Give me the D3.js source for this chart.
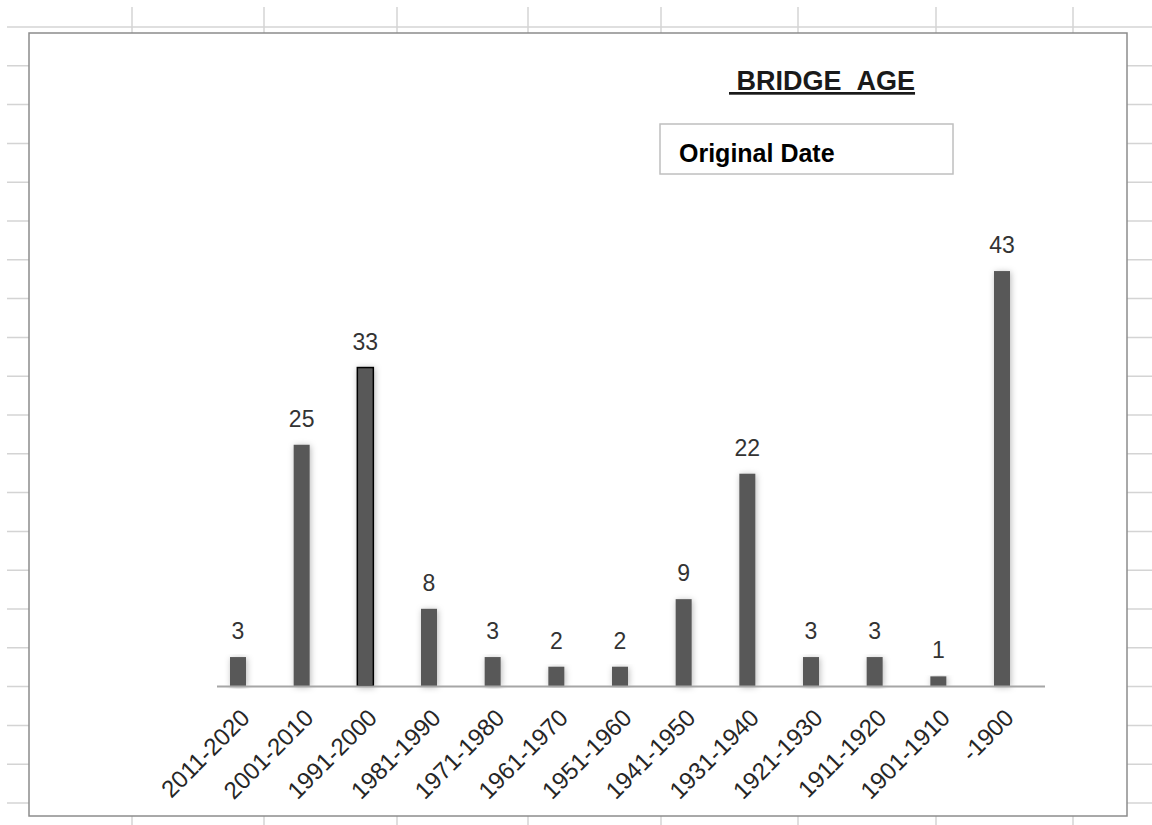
<!DOCTYPE html>
<html>
<head>
<meta charset="utf-8">
<script src="https://cdn.jsdelivr.net/npm/d3@7"></script>
<style>
  body { margin: 0; background: #fff; }
  svg { display: block; }
</style>
</head>
<body>
<svg width="1152" height="825"></svg>
<script>
var categories = ["2011-2020", "2001-2010", "1991-2000", "1981-1990", "1971-1980", "1961-1970",
                  "1951-1960", "1941-1950", "1931-1940", "1921-1930", "1911-1920", "1901-1910", "-1900"];
var counts = [3, 25, 33, 8, 3, 2, 2, 9, 22, 3, 3, 1, 43];
var selected = "1991-2000";

var titleText = "\u00a0BRIDGE\u00a0\u00a0AGE";
var legendText = "Original Date";

var svg = d3.select("svg"),
    width = +svg.attr("width"),
    height = +svg.attr("height");

// spreadsheet grid behind the chart
var rowLines = d3.range(21).map(function (k) { return 27 + 38.8 * k; });
var colLines = [132, 264, 397, 528, 661, 798, 936, 1073];

var grid = svg.append("g").attr("stroke", "#d4d4d4").attr("stroke-width", 1.5);
grid.selectAll("line.row")
    .data(rowLines)
    .enter().append("line")
    .attr("class", "row")
    .attr("x1", 7).attr("x2", width)
    .attr("y1", function (d) { return d; }).attr("y2", function (d) { return d; });
grid.selectAll("line.col")
    .data(colLines)
    .enter().append("line")
    .attr("class", "col")
    .attr("x1", function (d) { return d; }).attr("x2", function (d) { return d; })
    .attr("y1", 7).attr("y2", height);

// chart area
svg.append("rect")
    .attr("x", 29).attr("y", 33)
    .attr("width", 1098).attr("height", 783)
    .attr("fill", "#fff")
    .attr("stroke", "#8c8c8c")
    .attr("stroke-width", 1.5);

var defs = svg.append("defs");
var f = defs.append("filter").attr("id", "shadow")
    .attr("x", "-80%").attr("y", "-10%").attr("width", "260%").attr("height", "120%");
f.append("feDropShadow")
    .attr("dx", 1).attr("dy", 1)
    .attr("stdDeviation", 3)
    .attr("flood-color", "#000")
    .attr("flood-opacity", 0.28);

var x = d3.scalePoint()
    .domain(categories)
    .range([238, 1002]);

var y = d3.scaleLinear()
    .domain([0, 45])
    .range([686, 686 - 45 * 9.65]);

var barWidth = 16;

// bars
svg.append("g")
    .selectAll("rect")
    .data(categories)
    .enter().append("rect")
    .attr("x", function (d) { return x(d) - barWidth / 2; })
    .attr("y", function (d, i) { return y(counts[i]); })
    .attr("width", barWidth)
    .attr("height", function (d, i) { return y(0) - y(counts[i]); })
    .attr("fill", "#595959")
    .attr("stroke", function (d) { return d === selected ? "#000" : "none"; })
    .attr("stroke-width", 1.5)
    .attr("filter", "url(#shadow)");

// x axis line
svg.append("line")
    .attr("x1", 217).attr("x2", 1045)
    .attr("y1", y(0) + 0.5).attr("y2", y(0) + 0.5)
    .attr("stroke", "#a6a6a6")
    .attr("stroke-width", 2);

// value labels
svg.append("g")
    .selectAll("text")
    .data(categories)
    .enter().append("text")
    .attr("x", function (d) { return x(d); })
    .attr("y", function (d, i) { return y(counts[i]) - 18; })
    .attr("text-anchor", "middle")
    .attr("font-family", "Liberation Sans, Arial, sans-serif")
    .attr("font-size", 23)
    .attr("fill", "#333")
    .text(function (d, i) { return counts[i]; });

// category labels
svg.append("g")
    .selectAll("text")
    .data(categories)
    .enter().append("text")
    .attr("transform", function (d) { return "translate(" + (x(d) + 1) + ",707) rotate(-45)"; })
    .attr("text-anchor", "end")
    .attr("dy", "0.72em")
    .attr("font-family", "Liberation Sans, Arial, sans-serif")
    .attr("font-size", 24)
    .attr("fill", "#262626")
    .text(function (d) { return d; });

// title
svg.append("text")
    .attr("x", 729).attr("y", 90)
    .attr("font-family", "Liberation Sans, Arial, sans-serif")
    .attr("font-weight", "bold")
    .attr("font-size", 27)
    .attr("fill", "#1a1a1a")
    .attr("text-decoration", "underline")
    .text(titleText);

// legend box
svg.append("rect")
    .attr("x", 660).attr("y", 124)
    .attr("width", 293).attr("height", 50)
    .attr("fill", "#fff")
    .attr("stroke", "#bfbfbf")
    .attr("stroke-width", 1.5);

svg.append("text")
    .attr("x", 679).attr("y", 162)
    .attr("font-family", "Liberation Sans, Arial, sans-serif")
    .attr("font-weight", "bold")
    .attr("font-size", 25)
    .attr("fill", "#000")
    .text(legendText);
</script>
</body>
</html>
